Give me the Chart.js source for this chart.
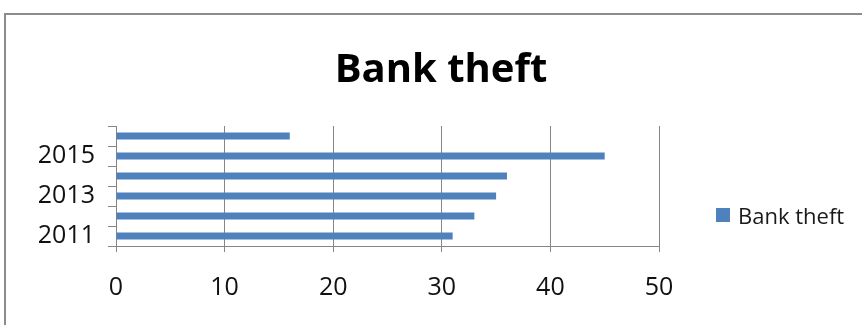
<!DOCTYPE html>
<html>
<head>
<meta charset="utf-8">
<script src="https://cdn.jsdelivr.net/npm/chart.js@4/dist/chart.umd.min.js"></script>
<style>
  html, body { margin:0; padding:0; background:#fff; }
  .wrap { position:relative; width:862px; height:325px; overflow:hidden; }
  .frame { position:absolute; left:4px; top:13px; width:900px; height:400px;
           border-top:2px solid #8c8c8c; border-left:2px solid #8c8c8c; }
  canvas { position:absolute; left:0; top:0; }
  .legend { position:absolute; left:716px; top:200px; font:22px "Open Sans", sans-serif; color:#1a1a1a;
            display:flex; align-items:center; white-space:nowrap; }
  .legend i { display:inline-block; width:14px; height:14px; background:#4F81BD; margin-right:8px; }
</style>
</head>
<body>
<div class="wrap">
  <div class="frame"></div>
  <canvas id="chart" width="862" height="325"></canvas>
  <div class="legend"><i></i><span id="legText"></span></div>
</div>
<script>
const title = 'Bank theft';
const seriesName = 'Bank theft';
const years = ['2011', '2012', '2013', '2014', '2015', '2016'];
const theft = [31, 33, 35, 36, 45, 16];
const xTicks = [0, 10, 20, 30, 40, 50];

document.getElementById('legText').textContent = seriesName;

const FONT = '"Open Sans", sans-serif';
const GRID = '#868686';

new Chart(document.getElementById('chart'), {
  type: 'bar',
  data: {
    labels: years,
    datasets: [{ label: seriesName, data: theft, backgroundColor: '#4F81BD',
                 categoryPercentage: 1, barPercentage: 0.36 }]
  },
  options: {
    responsive: false,
    animation: false,
    indexAxis: 'y',
    layout: { padding: { left: 20, right: 0, top: 0, bottom: 0 } },
    plugins: {
      legend: { display: false },
      tooltip: { enabled: false },
      title: { display: true, text: title, color: '#000',
               font: { family: FONT, size: 40, weight: 'bold' }, padding: { top: 47, bottom: 31 } }
    },
    scales: {
      x: {
        min: xTicks[0], max: xTicks[xTicks.length - 1],
        afterBuildTicks: a => { a.ticks = xTicks.map(v => ({ value: v })); },
        afterFit: a => { a.height = 79; },
        grid: { color: GRID, tickLength: 6, lineWidth: 1 },
        border: { color: GRID, width: 1 },
        ticks: { color: '#111', padding: 21, font: { family: FONT, size: 25 } }
      },
      y: {
        reverse: true,
        offset: true,
        afterFit: a => { a.width = 96; },
        grid: { drawOnChartArea: false, color: GRID, tickLength: 8, offset: true },
        border: { color: GRID, width: 1 },
        ticks: { autoSkip: false, color: '#111', padding: 13, font: { family: FONT, size: 25 },
                 callback: (v, i) => (i % 2 === 0 ? years[i] : '') }
      },
      // empty right-hand space reserved for the legend area
      spacer: {
        type: 'linear', position: 'right', display: true,
        afterFit: a => { a.width = 203; },
        grid: { display: false }, border: { display: false }, ticks: { display: false }
      }
    }
  }
});
</script>
</body>
</html>
